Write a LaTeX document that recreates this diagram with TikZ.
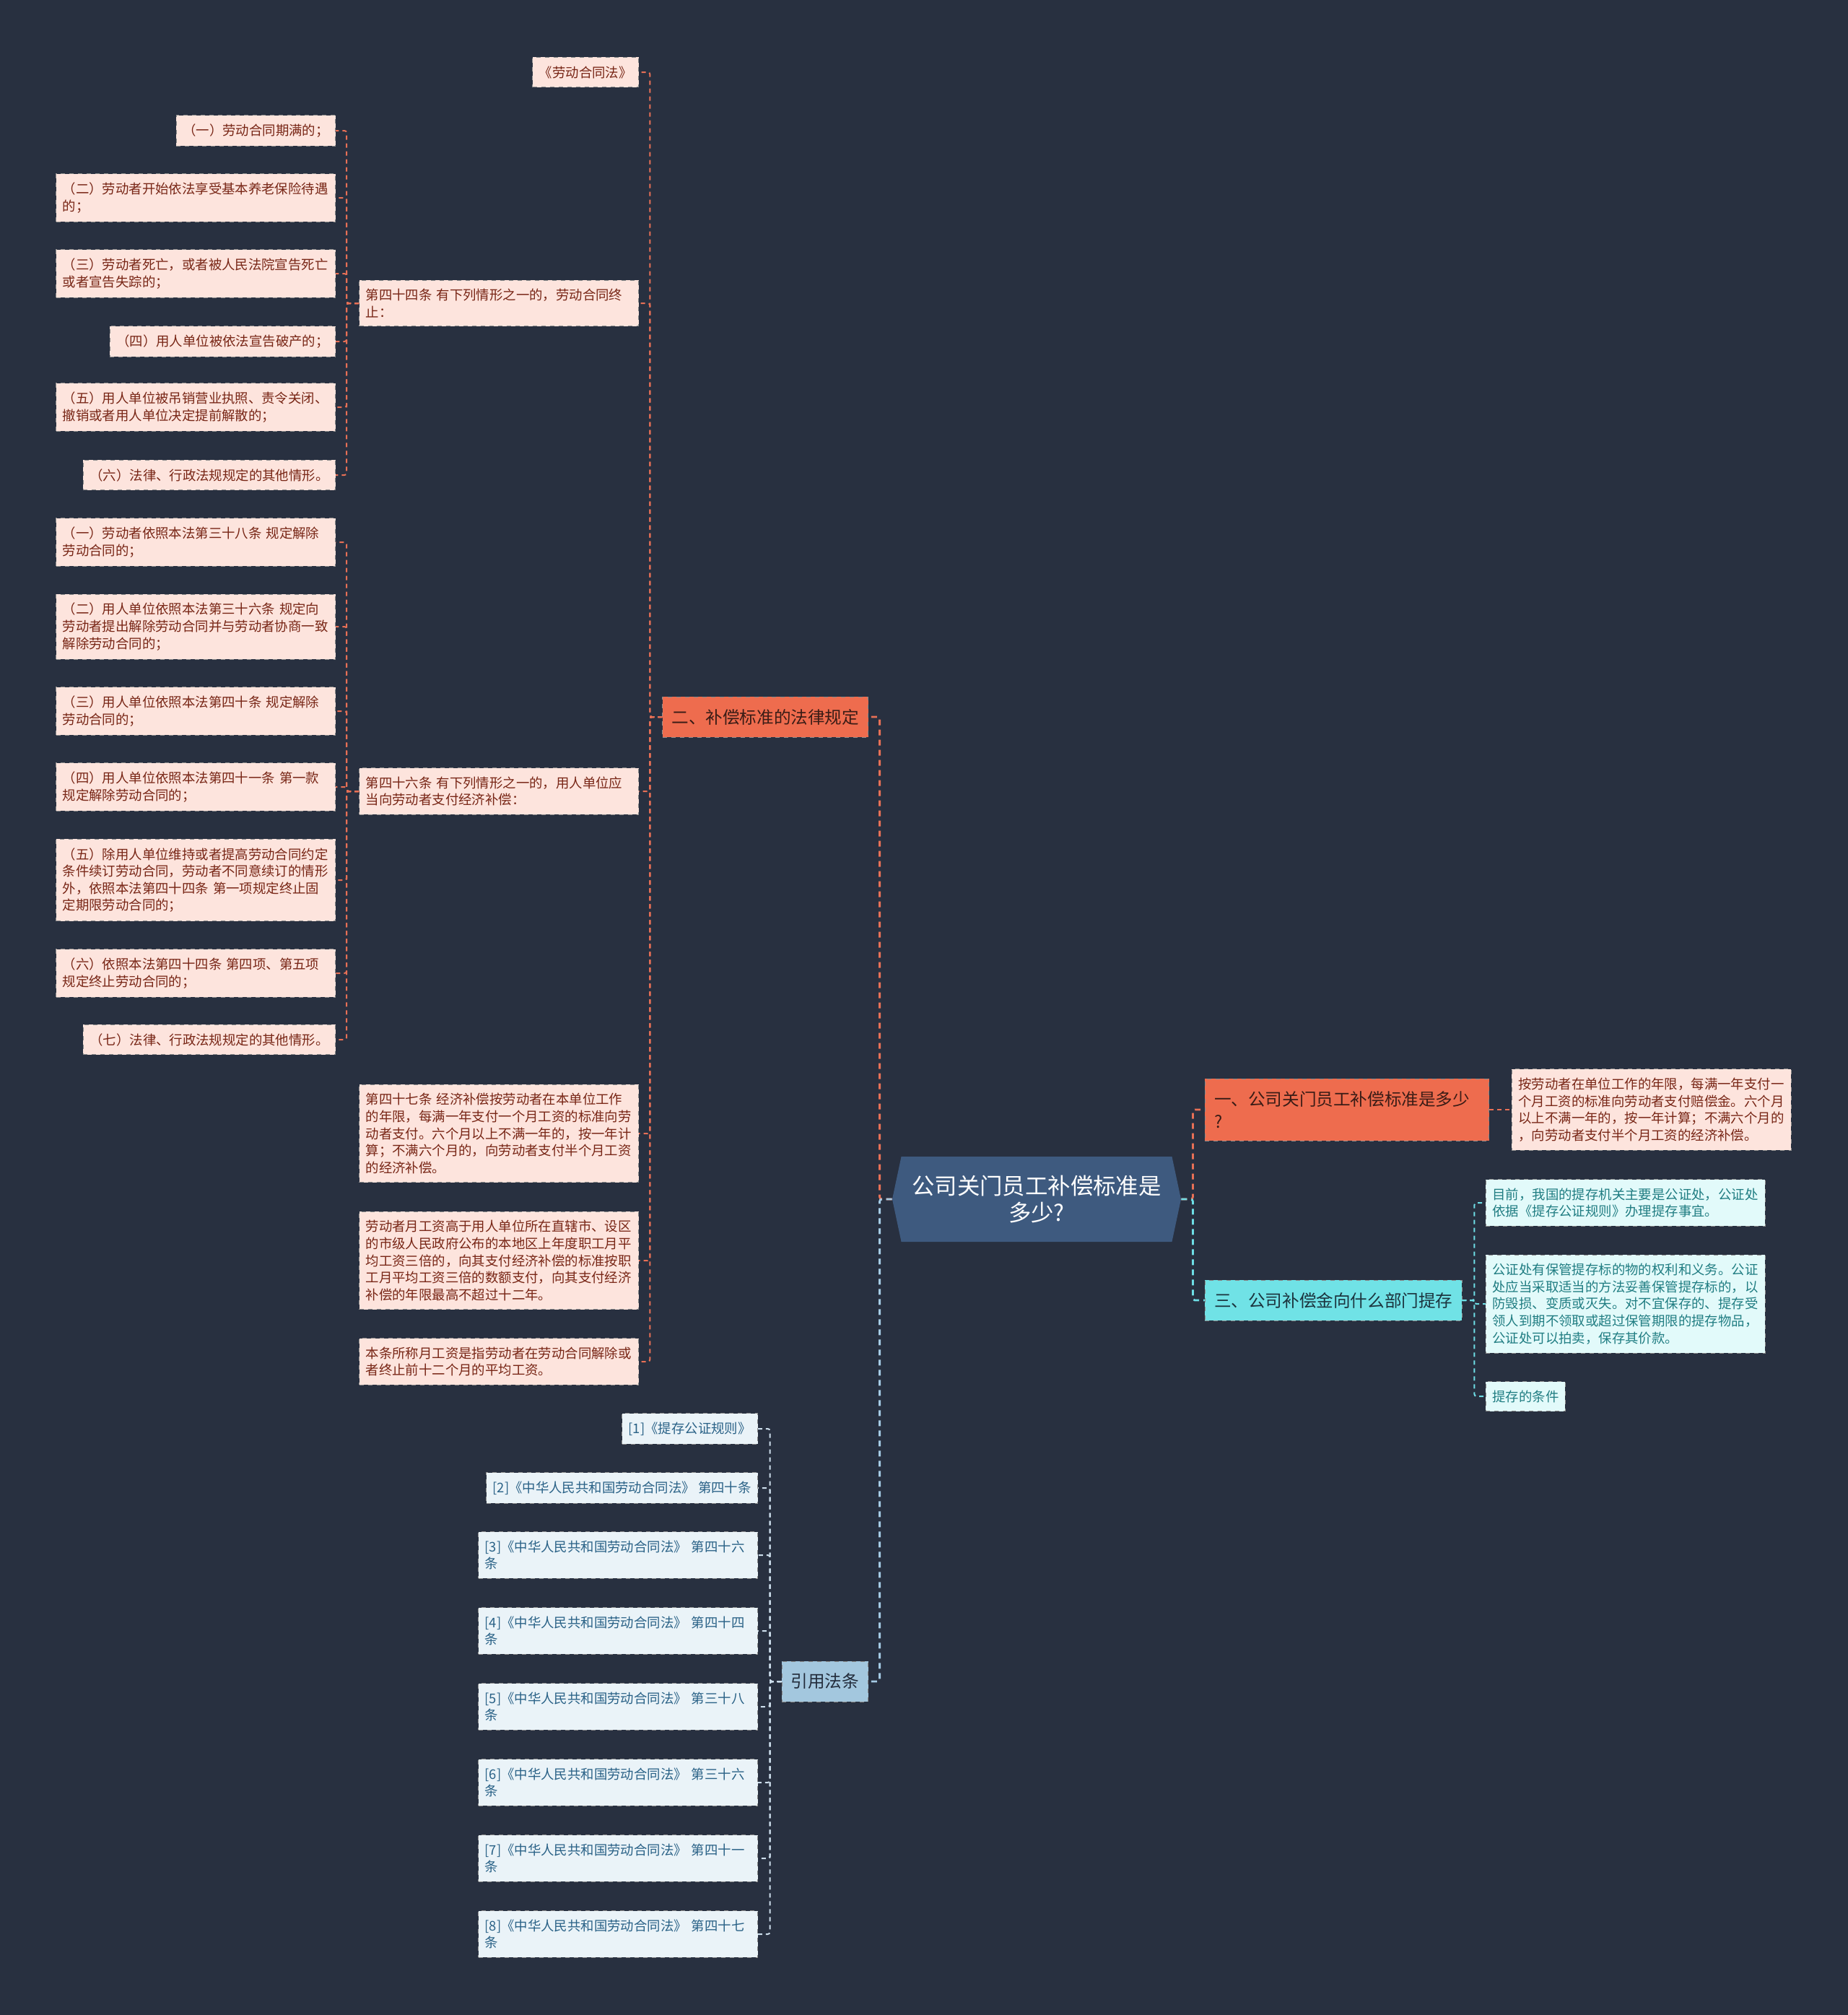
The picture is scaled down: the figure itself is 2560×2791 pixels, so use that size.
\documentclass[tikz,border=0pt]{standalone}
\usepackage{xcolor}
\usepackage{fontspec}
\usepackage{tikz}
\usetikzlibrary{shapes,shapes.symbols,positioning,calc}
\newfontfamily\cjk{Noto Sans CJK SC}
\definecolor{bgDark}{RGB}{40,48,64}
\definecolor{rootBlue}{RGB}{62,90,127}
\definecolor{lawOrange}{RGB}{238,108,78}
\definecolor{pinkFill}{RGB}{253,228,221}
\definecolor{pinkText}{RGB}{120,38,22}
\definecolor{topicText}{RGB}{58,28,22}
\definecolor{cyanBox}{RGB}{112,226,230}
\definecolor{cyanFill}{RGB}{226,250,250}
\definecolor{cyanText}{RGB}{32,125,130}
\definecolor{cyanDark}{RGB}{28,52,62}
\definecolor{refBlue}{RGB}{163,199,222}
\definecolor{refFill}{RGB}{234,243,248}
\definecolor{refText}{RGB}{42,98,135}
\definecolor{refDark}{RGB}{35,45,60}
\definecolor{lineOrange}{RGB}{232,112,86}
\definecolor{lineBlue}{RGB}{165,203,228}
\definecolor{lineCyan}{RGB}{110,222,230}
\definecolor{lineRef}{RGB}{205,222,236}

\begin{document}
\begin{tikzpicture}[
    x=0.5pt, y=-0.5pt,
    root/.style={signal, signal to=west and east, signal pointer angle=156, fill=rootBlue, text=white, minimum width=200pt, minimum height=59pt, inner sep=1pt, align=center, font=\cjk\fontsize{15.7}{18.3}\selectfont},
    topic/.style={rectangle, draw=black!45, dashed, inner xsep=6.3pt, inner ysep=8.5pt, align=left, font=\cjk\fontsize{11.8}{15.8}\selectfont},
    leaf/.style={rectangle, draw=black!45, dashed, inner xsep=4.5pt, inner ysep=6pt, align=left, font=\cjk\fontsize{9.2}{11.8}\selectfont},
    wide/.style={text width=184.5pt},
    pinkleaf/.style={leaf, fill=pinkFill, text=pinkText},
    cyanleaf/.style={leaf, fill=cyanFill, text=cyanText},
    refleaf/.style={leaf, fill=refFill, text=refText},
    trunk/.style={line width=1.4pt, dash pattern=on 4pt off 3pt, rounded corners=1.5pt},
    link/.style={line width=1pt, dash pattern=on 3pt off 2.5pt, rounded corners=1.5pt}
]
    % Canvas
    \fill[bgDark] (0,0) rectangle (2560,2791);
    \useasboundingbox (0,0) rectangle (2560,2791);

    % Root
    \node[root] (root) at (1436,1661) {公司关门员工补偿标准是\\多少?};

    % Branch one
    \node[topic, fill=lawOrange, text=topicText, text width=184pt, anchor=west] (b1) at (1669,1537) {一、公司关门员工补偿标准是多少\\?};
    \node[pinkleaf, wide, anchor=west] (b1a) at (2094,1537) {按劳动者在单位工作的年限，每满一年支付一\\个月工资的标准向劳动者支付赔偿金。六个月\\以上不满一年的，按一年计算；不满六个月的\\，向劳动者支付半个月工资的经济补偿。};

    % Branch three
    \node[topic, fill=cyanBox, text=cyanDark, anchor=west] (b3) at (1669,1801) {三、公司补偿金向什么部门提存};
    \node[cyanleaf, wide, anchor=west] (b3a) at (2058,1666) {目前，我国的提存机关主要是公证处，公证处\\依据《提存公证规则》办理提存事宜。};
    \node[cyanleaf, wide, anchor=west] (b3b) at (2058,1806) {公证处有保管提存标的物的权利和义务。公证\\处应当采取适当的方法妥善保管提存标的，以\\防毁损、变质或灭失。对不宜保存的、提存受\\领人到期不领取或超过保管期限的提存物品，\\公证处可以拍卖，保存其价款。};
    \node[cyanleaf, anchor=west] (b3c) at (2058,1934) {提存的条件};

    % Branch two
    \node[topic, fill=lawOrange, text=topicText, anchor=east] (b2) at (1203,993) {二、补偿标准的法律规定};
    \node[pinkleaf, anchor=east] (law) at (885,100) {《劳动合同法》};
    \node[pinkleaf, wide, anchor=east] (a44) at (885,420) {第四十四条 有下列情形之一的，劳动合同终\\止：};
    \node[pinkleaf, wide, anchor=east] (a46) at (885,1096) {第四十六条 有下列情形之一的，用人单位应\\当向劳动者支付经济补偿：};
    \node[pinkleaf, wide, anchor=east] (a47) at (885,1570) {第四十七条 经济补偿按劳动者在本单位工作\\的年限，每满一年支付一个月工资的标准向劳\\动者支付。六个月以上不满一年的，按一年计\\算；不满六个月的，向劳动者支付半个月工资\\的经济补偿。};
    \node[pinkleaf, wide, anchor=east] (wage) at (885,1746) {劳动者月工资高于用人单位所在直辖市、设区\\的市级人民政府公布的本地区上年度职工月平\\均工资三倍的，向其支付经济补偿的标准按职\\工月平均工资三倍的数额支付，向其支付经济\\补偿的年限最高不超过十二年。};
    \node[pinkleaf, wide, anchor=east] (avg) at (885,1886) {本条所称月工资是指劳动者在劳动合同解除或\\者终止前十二个月的平均工资。};

    % Article 44 cases
    \node[pinkleaf, anchor=east] (c1) at (465,181) {（一）劳动合同期满的；};
    \node[pinkleaf, wide, anchor=east] (c2) at (465,274) {（二）劳动者开始依法享受基本养老保险待遇\\的；};
    \node[pinkleaf, wide, anchor=east] (c3) at (465,379) {（三）劳动者死亡，或者被人民法院宣告死亡\\或者宣告失踪的；};
    \node[pinkleaf, anchor=east] (c4) at (465,473) {（四）用人单位被依法宣告破产的；};
    \node[pinkleaf, wide, anchor=east] (c5) at (465,564) {（五）用人单位被吊销营业执照、责令关闭、\\撤销或者用人单位决定提前解散的；};
    \node[pinkleaf, anchor=east] (c6) at (465,658) {（六）法律、行政法规规定的其他情形。};

    % Article 46 cases
    \node[pinkleaf, wide, anchor=east] (d1) at (465,751) {（一）劳动者依照本法第三十八条 规定解除\\劳动合同的；};
    \node[pinkleaf, wide, anchor=east] (d2) at (465,868) {（二）用人单位依照本法第三十六条 规定向\\劳动者提出解除劳动合同并与劳动者协商一致\\解除劳动合同的；};
    \node[pinkleaf, wide, anchor=east] (d3) at (465,985) {（三）用人单位依照本法第四十条 规定解除\\劳动合同的；};
    \node[pinkleaf, wide, anchor=east] (d4) at (465,1090) {（四）用人单位依照本法第四十一条 第一款\\规定解除劳动合同的；};
    \node[pinkleaf, wide, anchor=east] (d5) at (465,1219) {（五）除用人单位维持或者提高劳动合同约定\\条件续订劳动合同，劳动者不同意续订的情形\\外，依照本法第四十四条 第一项规定终止固\\定期限劳动合同的；};
    \node[pinkleaf, wide, anchor=east] (d6) at (465,1348) {（六）依照本法第四十四条 第四项、第五项\\规定终止劳动合同的；};
    \node[pinkleaf, anchor=east] (d7) at (465,1440) {（七）法律、行政法规规定的其他情形。};

    % Cited laws
    \node[topic, fill=refBlue, text=refDark, anchor=east] (refs) at (1203,2329) {引用法条};
    \node[refleaf, anchor=east] (r1) at (1050,1979) {[1]《提存公证规则》};
    \node[refleaf, anchor=east] (r2) at (1050,2061) {[2]《中华人民共和国劳动合同法》 第四十条};
    \node[refleaf, wide, anchor=east] (r3) at (1050,2154) {[3]《中华人民共和国劳动合同法》 第四十六\\条};
    \node[refleaf, wide, anchor=east] (r4) at (1050,2259) {[4]《中华人民共和国劳动合同法》 第四十四\\条};
    \node[refleaf, wide, anchor=east] (r5) at (1050,2364) {[5]《中华人民共和国劳动合同法》 第三十八\\条};
    \node[refleaf, wide, anchor=east] (r6) at (1050,2469) {[6]《中华人民共和国劳动合同法》 第三十六\\条};
    \node[refleaf, wide, anchor=east] (r7) at (1050,2574) {[7]《中华人民共和国劳动合同法》 第四十一\\条};
    \node[refleaf, wide, anchor=east] (r8) at (1050,2679) {[8]《中华人民共和国劳动合同法》 第四十七\\条};

    % Root links
    \draw[trunk, lineOrange] (root.west) -- ++(-17,0) |- (b2.east);
    \draw[trunk, lineBlue] (root.west) -- ++(-17,0) |- (refs.east);
    \draw[trunk, lineOrange] (root.east) -- ++(16,0) |- (b1.west);
    \draw[trunk, lineCyan] (root.east) -- ++(16,0) |- (b3.west);

    % Branch one links
    \draw[link, lineOrange] (b1.east) -- (b1a.west);

    % Branch three links
    \draw[link, lineCyan] (b3.east) -- ++(17,0) |- (b3a.west);
    \draw[link, lineCyan] (b3.east) -- ++(17,0) |- (b3b.west);
    \draw[link, lineCyan] (b3.east) -- ++(17,0) |- (b3c.west);

    % Branch two links
    \draw[link, lineOrange] (b2.west) -- ++(-17,0) |- (law.east);
    \draw[link, lineOrange] (b2.west) -- ++(-17,0) |- (a44.east);
    \draw[link, lineOrange] (b2.west) -- ++(-17,0) |- (a46.east);
    \draw[link, lineOrange] (b2.west) -- ++(-17,0) |- (a47.east);
    \draw[link, lineOrange] (b2.west) -- ++(-17,0) |- (wage.east);
    \draw[link, lineOrange] (b2.west) -- ++(-17,0) |- (avg.east);

    % Article 44 links
    \draw[link, lineOrange] (a44.west) -- ++(-17,0) |- (c1.east);
    \draw[link, lineOrange] (a44.west) -- ++(-17,0) |- (c2.east);
    \draw[link, lineOrange] (a44.west) -- ++(-17,0) |- (c3.east);
    \draw[link, lineOrange] (a44.west) -- ++(-17,0) |- (c4.east);
    \draw[link, lineOrange] (a44.west) -- ++(-17,0) |- (c5.east);
    \draw[link, lineOrange] (a44.west) -- ++(-17,0) |- (c6.east);

    % Article 46 links
    \draw[link, lineOrange] (a46.west) -- ++(-17,0) |- (d1.east);
    \draw[link, lineOrange] (a46.west) -- ++(-17,0) |- (d2.east);
    \draw[link, lineOrange] (a46.west) -- ++(-17,0) |- (d3.east);
    \draw[link, lineOrange] (a46.west) -- ++(-17,0) |- (d4.east);
    \draw[link, lineOrange] (a46.west) -- ++(-17,0) |- (d5.east);
    \draw[link, lineOrange] (a46.west) -- ++(-17,0) |- (d6.east);
    \draw[link, lineOrange] (a46.west) -- ++(-17,0) |- (d7.east);

    % Cited law links
    \draw[link, lineRef] (refs.west) -- ++(-16,0) |- (r1.east);
    \draw[link, lineRef] (refs.west) -- ++(-16,0) |- (r2.east);
    \draw[link, lineRef] (refs.west) -- ++(-16,0) |- (r3.east);
    \draw[link, lineRef] (refs.west) -- ++(-16,0) |- (r4.east);
    \draw[link, lineRef] (refs.west) -- ++(-16,0) |- (r5.east);
    \draw[link, lineRef] (refs.west) -- ++(-16,0) |- (r6.east);
    \draw[link, lineRef] (refs.west) -- ++(-16,0) |- (r7.east);
    \draw[link, lineRef] (refs.west) -- ++(-16,0) |- (r8.east);
\end{tikzpicture}
\end{document}
